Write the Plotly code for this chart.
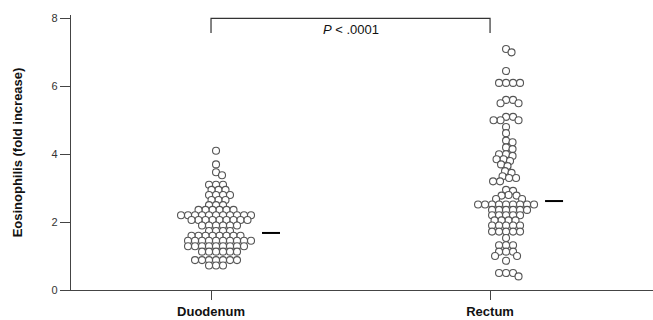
import plotly.graph_objects as go
import numpy as np

categories = ["Duodenum", "Rectum"]
duodenum = [4.1, 3.7, 3.47, 3.38,
            3.1, 3.1, 3.1,
            2.95, 2.95, 2.95,
            2.8, 2.8, 2.8, 2.8,
            2.65, 2.65, 2.65,
            2.5, 2.5, 2.5,
            2.36, 2.36, 2.36, 2.36, 2.36, 2.36,
            2.2, 2.2, 2.2, 2.2, 2.2, 2.2, 2.2, 2.2, 2.2, 2.2, 2.2,
            2.06, 2.06, 2.06, 2.06, 2.06, 2.06, 2.06, 2.06, 2.06,
            1.9, 1.9, 1.9, 1.9, 1.9, 1.9,
            1.74, 1.74, 1.74, 1.74,
            1.6, 1.6, 1.6, 1.6, 1.6, 1.6, 1.6, 1.6,
            1.45, 1.45, 1.45, 1.45, 1.45, 1.45, 1.45, 1.45, 1.45, 1.45,
            1.29, 1.29, 1.29, 1.29, 1.29, 1.29, 1.29, 1.29, 1.29,
            1.13, 1.13, 1.13, 1.13, 1.13, 1.13,
            0.88, 0.88, 0.88, 0.88, 0.88, 0.88, 0.88,
            0.72, 0.72, 0.72]
rectum = [7.1, 7.0, 6.45,
          6.1, 6.1, 6.1, 6.1,
          5.6, 5.6, 5.5, 5.5,
          5.1, 5.1, 5.0, 5.0, 5.0,
          4.8, 4.62, 4.4, 4.35, 4.2, 4.15,
          4.0, 4.0, 3.95, 3.85, 3.85, 3.8,
          3.7, 3.65, 3.5, 3.45, 3.35, 3.3, 3.3, 3.2, 3.2,
          2.95, 2.92, 2.8, 2.78, 2.78, 2.68, 2.68,
          2.52, 2.52, 2.52, 2.52, 2.52, 2.52, 2.52, 2.52, 2.52,
          2.36, 2.36, 2.36, 2.36, 2.36, 2.36,
          2.2, 2.2, 2.2, 2.2, 2.2,
          2.05, 2.05, 2.05, 2.05,
          1.9, 1.9, 1.9, 1.9, 1.9,
          1.72, 1.72, 1.72, 1.72, 1.72,
          1.53, 1.32, 1.32, 1.32,
          1.13, 1.13, 1.13, 1.0, 1.0, 0.86,
          0.5, 0.5, 0.5, 0.4]
means = [1.68, 2.62]
y_ticks = [0, 2, 4, 6, 8]
p_label = "<i>P</i> < .0001"

W, H = 653, 320
ml, mr, mt, mb = 71, 0, 15, 30
ymax = 8.1
x_range = [-0.5018, 1.584]
swarm_shift_px = [5, 16]
plot_h = H - mt - mb
plot_w = W - ml - mr
px_per_y = plot_h / ymax
px_per_x = plot_w / (x_range[1] - x_range[0])


def swarm(values, dx0=6.8, dy0=5.4):
    vals = np.asarray(values, dtype=float)
    order = np.argsort(-vals, kind="stable")
    placed = []
    offsets = np.zeros(len(vals))
    cands = [0.0] + [s * k * 0.5 for k in range(1, 300) for s in (1, -1)]
    for i in order:
        ypx = vals[i] * px_per_y
        for c in cands:
            if all(((c - px) / dx0) ** 2 + ((ypx - py) / dy0) ** 2 >= 1
                   for px, py in placed):
                break
        placed.append((c, ypx))
        offsets[i] = c
    return offsets


fig = go.Figure()
font = "Liberation Sans, Arial, Helvetica, sans-serif"

for gi, vals in enumerate([duodenum, rectum]):
    offs = swarm(vals)
    offs = offs - (offs.max() + offs.min()) / 2 + swarm_shift_px[gi]
    xs = gi + offs / px_per_x
    fig.add_trace(go.Scatter(
        x=xs, y=vals, mode="markers",
        marker=dict(symbol="circle", size=7, color="white",
                    line=dict(color="#555555", width=1.1)),
        cliponaxis=False, showlegend=False, hoverinfo="y"))
    start = xs.max() + 11 / px_per_x
    fig.add_trace(go.Scatter(
        x=[start, start + 18 / px_per_x], y=[means[gi], means[gi]],
        mode="lines", line=dict(color="black", width=2),
        showlegend=False, hoverinfo="skip"))

# significance bracket
fig.add_trace(go.Scatter(
    x=[0, 0, 1, 1], y=[7.57, 8, 8, 7.57], mode="lines",
    line=dict(color="#333333", width=1.2),
    showlegend=False, hoverinfo="skip"))
fig.add_annotation(x=0.5, y=7.66, text=p_label, showarrow=False,
                   font=dict(family=font, size=13, color="#111111"))

fig.update_layout(
    width=W, height=H,
    margin=dict(l=ml, r=mr, t=mt, b=mb, pad=0, autoexpand=False),
    plot_bgcolor="white", paper_bgcolor="white",
    font=dict(family=font),
    xaxis=dict(range=x_range, tickvals=[0, 1],
               ticktext=["<b>%s</b>" % c for c in categories],
               showgrid=False, zeroline=False, showline=True,
               linecolor="#444444", linewidth=1.2,
               ticks="outside", ticklen=9, tickcolor="#444444",
               tickfont=dict(family=font, size=13, color="#111111"),
               automargin=False, fixedrange=True),
    yaxis=dict(range=[0, ymax], tickvals=y_ticks,
               showgrid=False, zeroline=False, showline=True,
               linecolor="#444444", linewidth=1.2,
               ticks="outside", ticklen=10, tickcolor="#444444",
               tickfont=dict(family=font, size=11, color="#333333"),
               title=dict(text="<b>Eosinophilis (fold increase)</b>",
                          font=dict(family=font, size=13, color="#111111"),
                          standoff=26),
               automargin=False, fixedrange=True),
)

fig.write_html("out.html", config={"displayModeBar": False},
               post_script="document.body.style.margin='0';document.body.style.overflow='hidden';")
